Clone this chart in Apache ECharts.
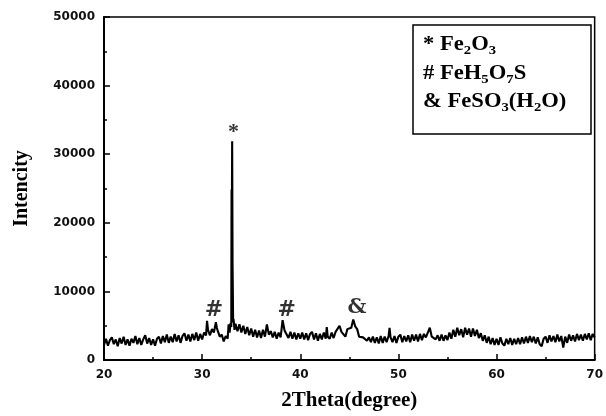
<!DOCTYPE html>
<html>
<head>
<meta charset="utf-8">
<script src="https://cdn.jsdelivr.net/npm/echarts@6/dist/echarts.min.js"></script>
<style>html,body{margin:0;padding:0;background:#fff;}#chart{width:606px;height:416px;}</style>
</head>
<body>
<div id="chart"></div>
<script>
// XRD scan, [2theta, intensity] pairs, split by range
const scan20to30 = [
[20.0,2200],[20.2,3100],[20.4,2100],[20.6,2900],[20.8,3300],[21.0,2300],[21.2,3000],[21.4,2000],[21.6,3200],[21.8,2400],
[22.0,3400],[22.2,2200],[22.4,3000],[22.6,2100],[22.8,3100],[23.0,2500],[23.2,3500],[23.4,2300],[23.6,3200],[23.8,2200],
[24.0,3000],[24.2,3600],[24.4,2400],[24.6,3200],[24.8,2200],[25.0,3000],[25.2,2100],[25.4,3100],[25.6,3400],[25.8,2400],
[26.0,3500],[26.2,2600],[26.4,3700],[26.6,2500],[26.8,3400],[27.0,2600],[27.2,3800],[27.4,2700],[27.6,3600],[27.8,2500],
[28.0,3500],[28.2,3900],[28.4,2800],[28.6,3700],[28.8,2700],[29.0,3800],[29.2,2900],[29.4,4000],[29.6,2800],[29.8,3800]
];
const scan30to33 = [
[30.0,3000],[30.2,4000],[30.4,3600],[30.5,5700],[30.6,4400],[30.8,3600],[31.0,4500],[31.2,4000],[31.4,5500],[31.5,4700],
[31.6,4200],[31.8,3400],[32.0,3700],[32.2,2700],[32.4,3500],[32.6,3100],[32.7,5200],[32.8,4000],[32.9,5400],[32.97,4800],
[33.0,24800],[33.04,24500],[33.06,31900],[33.1,14000],[33.14,13800],[33.16,5500],[33.2,6000],[33.3,4400],[33.4,5300]
];
const scan33to40 = [
[33.6,4200],[33.8,5200],[34.0,4000],[34.2,5000],[34.4,3800],[34.6,4800],[34.8,3600],[35.0,4600],[35.2,3400],[35.4,4400],
[35.6,3300],[35.8,4300],[36.0,3200],[36.2,4400],[36.4,3400],[36.6,5200],[36.8,3700],[37.0,4200],[37.2,3300],[37.4,4100],
[37.6,3100],[37.8,4000],[38.0,3300],[38.2,5800],[38.4,4300],[38.6,4400],[38.8,3200],[39.0,4100],[39.2,3100],[39.4,4000],
[39.6,3000],[39.8,3900],[40.0,3100]
];
const scan40to47 = [
[40.2,4000],[40.4,3000],[40.6,3900],[40.8,2900],[41.0,3800],[41.2,4100],[41.4,3000],[41.6,3900],[41.8,2800],[42.0,3800],
[42.2,3000],[42.4,4000],[42.6,3100],[42.7,4800],[42.8,3400],[43.0,3100],[43.2,4000],[43.4,3200],[43.6,4100],[43.8,3900],
[44.0,5000],[44.2,4100],[44.4,4300],[44.6,3400],[44.8,4500],[45.0,4500],[45.2,4700],[45.4,5900],[45.6,4900],[45.8,4500],
[46.0,3400],[46.2,3600],[46.4,3300],[46.6,3400],[46.8,2800],[47.0,3300]
];
const scan47to55 = [
[47.2,2600],[47.4,3400],[47.6,2500],[47.8,3300],[48.0,2400],[48.2,3500],[48.4,2500],[48.6,3400],[48.8,2600],[49.0,3500],
[49.1,4700],[49.2,3300],[49.4,2600],[49.6,3500],[49.8,2500],[50.0,3400],[50.2,3700],[50.4,2600],[50.6,3500],[50.8,2700],
[51.0,3600],[51.2,2600],[51.4,3700],[51.6,2800],[51.8,3700],[52.0,2700],[52.2,3800],[52.4,2900],[52.6,3800],[52.8,3300],
[53.0,4000],[53.2,4700],[53.4,3400],[53.6,3600],[53.8,3000],[54.0,3600],[54.2,2800],[54.4,3700],[54.6,2800],[54.8,3600],
[55.0,2900]
];
const scan55to62 = [
[55.2,4000],[55.4,3100],[55.6,4400],[55.8,3400],[56.0,4700],[56.2,3600],[56.4,4500],[56.6,3300],[56.8,4700],[57.0,3700],
[57.2,4600],[57.4,3400],[57.6,4600],[57.8,3500],[58.0,4400],[58.2,3200],[58.4,3900],[58.6,2800],[58.8,3600],[59.0,2500],
[59.2,3400],[59.4,2300],[59.6,3200],[59.8,2200],[60.0,3100],[60.2,2200],[60.4,3300],[60.6,2400],[60.8,2100],[61.0,3100],
[61.2,2300],[61.4,3200],[61.6,2200],[61.8,3100],[62.0,2300]
];
const scan62to70 = [
[62.2,3200],[62.4,2300],[62.6,3300],[62.8,2400],[63.0,3400],[63.2,2500],[63.4,3500],[63.6,2600],[63.8,3400],[64.0,2400],
[64.2,3300],[64.4,2300],[64.6,2000],[64.8,3100],[65.0,3400],[65.2,2500],[65.4,3600],[65.6,2700],[65.8,3500],[66.0,2600],
[66.2,3700],[66.4,2700],[66.6,3500],[66.8,1800],[67.0,3400],[67.2,2500],[67.4,3700],[67.6,2800],[67.8,3600],[68.0,2700],
[68.2,3800],[68.4,2900],[68.6,3700],[68.8,2800],[69.0,3800],[69.2,3000],[69.4,3900],[69.6,2900],[69.8,3800],[70.0,3300]
];

// Peak annotation marks
const peakMarks = ['*', '#', '#', '&'];
const peakTheta = [33.19, 31.2, 38.62, 45.78];
const peakLabelY = [33200, 7300, 7300, 7700];

// Legend box entries (rich text)
const legendLines = [
  '{m|* Fe}{s|2}{m|O}{s|3}',
  '{m|# FeH}{s|5}{m|O}{s|7}{m|S}',
  '{m|& FeSO}{s|3}{m|(H}{s|2}{m|O)}'
];

// Axis settings
const xMin = 20, xMax = 70, xStep = 10;
const yMin = 0, yMax = 50000, yStep = 10000;
const xTitle = '2Theta(degree)';
const yTitle = 'Intencity';

const scan = [].concat(scan20to30, scan30to33, scan33to40, scan40to47, scan47to55, scan55to62, scan62to70);
const serifBold = '"Liberation Serif", "Times New Roman", serif';
const markFonts = { '*': { fontFamily: serifBold, fontSize: 22 }, '#': { fontFamily: '"DejaVu Serif"', fontSize: 22 }, '&': { fontFamily: '"DejaVu Serif"', fontSize: 21 } };
const markData = peakMarks.map((m, i) => ({
  name: m, value: [peakTheta[i], peakLabelY[i]],
  label: Object.assign({ fontWeight: 'bold', color: '#000' }, markFonts[m])
}));

const chart = echarts.init(document.getElementById('chart'), null, { renderer: 'canvas' });
const tickFont = { fontFamily: '"DejaVu Sans"', fontWeight: 'bold', fontSize: 12, color: '#111' };

const legendY = [45, 74, 102];

chart.setOption({
  animation: false,
  backgroundColor: '#fff',
  grid: { left: 104, right: 8, top: 17, bottom: 52, show: true, borderColor: '#000', borderWidth: 1.5, backgroundColor: 'transparent' },
  xAxis: {
    type: 'value', min: xMin, max: xMax, interval: xStep,
    name: xTitle, nameLocation: 'middle', nameGap: 30,
    nameTextStyle: { fontFamily: serifBold, fontWeight: 'bold', fontSize: 21, color: '#000' },
    axisLine: { show: true, lineStyle: { color: '#000', width: 2 } },
    axisTick: { show: true, inside: true, length: 6, lineStyle: { color: '#000', width: 1.5 } },
    minorTick: { show: true, splitNumber: 2, length: 3, lineStyle: { color: '#000', width: 1.5 } },
    axisLabel: Object.assign({ margin: 9, formatter: v => String(v) }, tickFont),
    splitLine: { show: false }
  },
  yAxis: {
    type: 'value', min: yMin, max: yMax, interval: yStep,
    name: yTitle, nameLocation: 'middle', nameGap: 72, nameRotate: 90,
    nameTextStyle: { fontFamily: serifBold, fontWeight: 'bold', fontSize: 20, color: '#000' },
    axisLine: { show: true, lineStyle: { color: '#000', width: 2 } },
    axisTick: { show: true, inside: true, length: 6, lineStyle: { color: '#000', width: 1.5 } },
    minorTick: { show: true, splitNumber: 2, length: 3, lineStyle: { color: '#000', width: 1.5 } },
    axisLabel: Object.assign({ margin: 9, formatter: v => String(v) }, tickFont),
    splitLine: { show: false }
  },
  series: [
    {
      type: 'line', data: scan, showSymbol: false, symbol: 'none',
      lineStyle: { color: '#000', width: 2.1 }, z: 3
    },
    {
      type: 'scatter', data: markData, symbolSize: 0, z: 4,
      label: { show: true, position: 'inside', formatter: '{b}' }
    }
  ],
  graphic: [
    { type: 'rect', shape: { x: 413, y: 25, width: 178, height: 109 }, style: { fill: '#fff', stroke: '#000', lineWidth: 1.5 }, z: 10 }
  ].concat(legendLines.map((t, i) => ({
    type: 'text', x: 423, y: legendY[i], scaleX: 1.13, z: 11,
    style: {
      text: t, align: 'left', verticalAlign: 'middle',
      rich: {
        m: { fontFamily: serifBold, fontWeight: 'bold', fontSize: 20, lineHeight: 24, fill: '#000' },
        s: { fontFamily: serifBold, fontWeight: 'bold', fontSize: 13, lineHeight: 14, verticalAlign: 'bottom', fill: '#000' }
      }
    }
  })))
});
</script>
</body>
</html>
